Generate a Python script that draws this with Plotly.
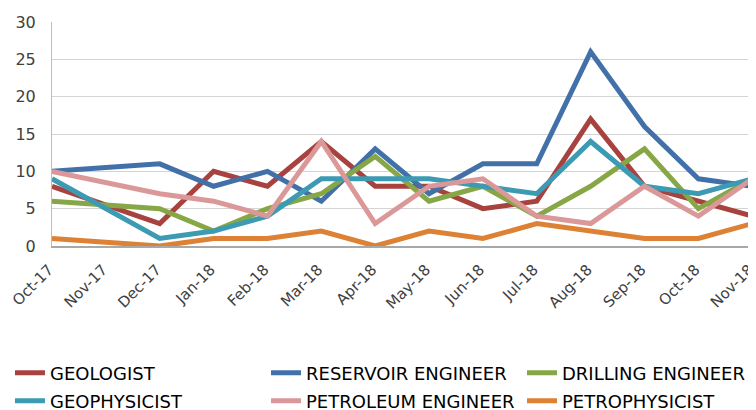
import plotly.graph_objects as go

months = ["Oct-17", "Nov-17", "Dec-17", "Jan-18", "Feb-18", "Mar-18", "Apr-18",
          "May-18", "Jun-18", "Jul-18", "Aug-18", "Sep-18", "Oct-18", "Nov-18"]

geologist = [8, None, 3, 10, 8, 14, 8, 8, 5, 6, 17, 8, 6, 4]
reservoir_engineer = [10, None, 11, 8, 10, 6, 13, 7, 11, 11, 26, 16, 9, 8]
drilling_engineer = [6, None, 5, 2, 5, 7, 12, 6, 8, 4, 8, 13, 5, 9]
geophysicist = [9, None, 1, 2, 4, 9, 9, 9, 8, 7, 14, 8, 7, 9]
petroleum_engineer = [10, None, 7, 6, 4, 14, 3, 8, 9, 4, 3, 8, 4, 9]
petrophysicist = [1, None, 0, 1, 1, 2, 0, 2, 1, 3, 2, 1, 1, 3]

series_names = ["GEOLOGIST", "RESERVOIR ENGINEER", "DRILLING ENGINEER",
                "GEOPHYSICIST", "PETROLEUM ENGINEER", "PETROPHYSICIST"]
series_values = [geologist, reservoir_engineer, drilling_engineer,
                 geophysicist, petroleum_engineer, petrophysicist]
series_colors = ["#A8423F", "#4270A9", "#87A746", "#3D9AB3", "#DB9898", "#DD8235"]

# legend grid: 3 columns x 2 rows (paper coordinates)
legend_cols = [-0.0597, 0.304, 0.6676]
legend_rows = [-0.567, -0.692]

FONT = "DejaVu Sans, Verdana, sans-serif"

fig = go.Figure()
xs = list(range(len(months)))
legend_layout = {}
for i, (name, vals, color) in enumerate(zip(series_names, series_values, series_colors)):
    lg = "legend" if i == 0 else f"legend{i + 1}"
    fig.add_trace(go.Scatter(
        x=xs, y=vals, name=name, mode="lines", connectgaps=True,
        line=dict(color=color, width=5), cliponaxis=False, legend=lg,
    ))
    legend_layout[lg] = dict(
        x=legend_cols[i % 3], y=legend_rows[i // 3],
        orientation="h", xanchor="left", yanchor="middle", itemwidth=30,
        font=dict(family=FONT, size=18, color="#000000"),
        bgcolor="rgba(0,0,0,0)",
    )

fig.update_layout(
    width=748, height=402,
    margin=dict(l=44, r=0, t=14, b=164, autoexpand=False),
    paper_bgcolor="white", plot_bgcolor="white",
    font=dict(family=FONT, size=16, color="#404040"),
    showlegend=True,
    **legend_layout,
)
fig.update_xaxes(
    range=[0, 13.07], tickmode="array", tickvals=xs, ticktext=months,
    tickangle=-45, showgrid=False, zeroline=False,
    showline=True, linecolor="#A8A8A8", linewidth=2,
    tickfont=dict(family=FONT, size=15, color="#404040"),
    ticks="", ticklabelstandoff=7, ticklabelshift=-3,
    ticklabeloverflow="allow", automargin=False,
)
fig.update_yaxes(
    range=[0, 30], tickvals=[0, 5, 10, 15, 20, 25, 30],
    showgrid=True, gridcolor="#D4D4D4", gridwidth=1, zeroline=False,
    showline=True, linecolor="#BDBDBD", linewidth=1,
    tickfont=dict(family=FONT, size=16, color="#404040"),
    ticks="", ticklabelstandoff=12, automargin=False,
)

fig.write_html("out.html")
